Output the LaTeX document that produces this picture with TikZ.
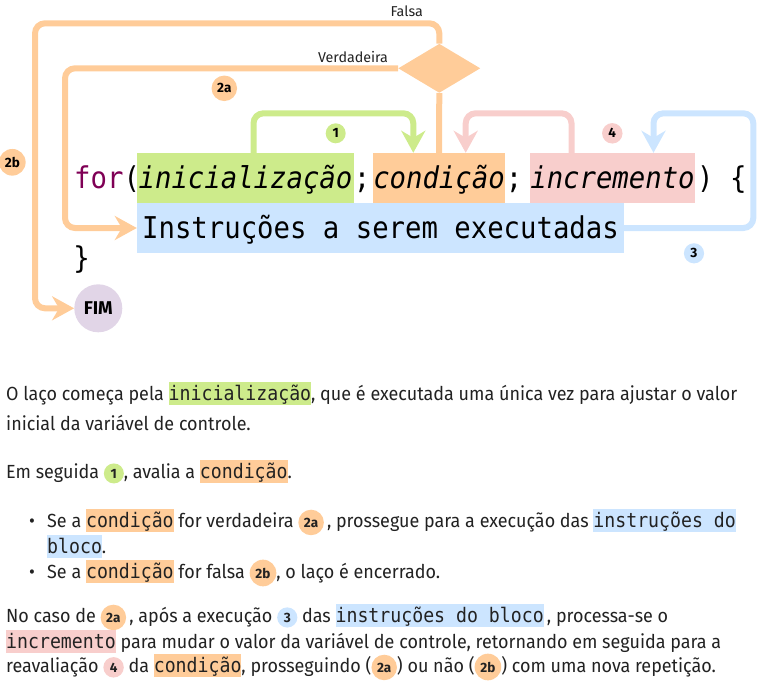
\documentclass[tikz,border=0pt]{standalone}
\usepackage{fontspec}
\setmainfont{Fira Sans}[FakeStretch=0.945]
\newfontfamily\labelfont{Fira Sans}
\newfontfamily\codefont{DejaVu Sans Mono}[FakeStretch=0.91]
\usetikzlibrary{shapes.geometric,arrows.meta}
\definecolor{cgreen}{HTML}{CDEB8B}
\definecolor{corange}{HTML}{FFCC99}
\definecolor{cpink}{HTML}{F8CECC}
\definecolor{cblue}{HTML}{CCE5FF}
\definecolor{cpurple}{HTML}{E1D5E7}
\definecolor{kwcolor}{HTML}{7F0055}
\definecolor{txtgray}{HTML}{222222}
\newcommand{\codehl}[2]{{\setlength{\fboxsep}{0pt}\colorbox{#1}{\rule[-5pt]{0pt}{23pt}\codefont\fontsize{20}{22}\selectfont #2}}}
\newcommand{\badge}[2]{\tikz[baseline=(bdg.base)]\node[badge,fill=#1] (bdg) {#2};}

\begin{document}
\begin{tikzpicture}[x=1pt,y=-1pt]
        \tikzset{
        codebox/.style={inner sep=0,minimum height=50pt,text height=25pt,text depth=5pt,font=\codefont\fontsize{30}{34}\selectfont\itshape},
        codetxt/.style={inner sep=0,anchor=base,font=\codefont\fontsize{30}{34}\selectfont},
        badge/.style={circle,inner sep=3pt,minimum size=20pt,font=\labelfont\fontsize{13.5}{15}\selectfont\bfseries},
        flow/.style={line width=6pt,rounded corners=10pt,-{Stealth[length=22pt,width=24pt,inset=7pt]}},
        branch/.style={inner sep=0,text=txtgray,font=\labelfont\fontsize{14.3}{16}\selectfont},
        para/.style={anchor=base west,inner sep=0,text=txtgray,font=\fontsize{19}{22}\selectfont}
        }
        \useasboundingbox (0,0) rectangle (766,697);

        % code line
        \node[codebox,fill=cgreen,minimum width=217pt] (ini) at (245.5,178) {inicialização};
        \node[codebox,fill=corange,minimum width=130pt] (cond) at (439,178) {condição};
        \node[codebox,fill=cpink,minimum width=163pt] (incr) at (612.5,178) {incremento};
        \node[codebox,fill=cblue,minimum width=487pt,font=\codefont\fontsize{30}{34}\selectfont] (instr) at (380.5,228) {Instruções a serem executadas};
        \node[codetxt,anchor=base west] (kw) at (74,188) {\textcolor{kwcolor}{for}(};
        \node[codetxt] (semi1) at (362,188) {;};
        \node[codetxt] (semi2) at (514,188) {;};
        \node[codetxt,anchor=base west] (open) at (697,188) {) \{};
        \node[codetxt] (close) at (81.5,268) {\}};

        \node[diamond,fill=corange,minimum width=82pt,minimum height=49pt,inner sep=0] (dec) at (439.3,68.3) {};
        \node[circle,fill=cpurple,minimum size=48pt,inner sep=0,font=\labelfont\fontsize{18.5}{20}\selectfont\bfseries] (fim) at (98.3,308.3) {FIM};

        \node[branch] (lfalsa) at (406.7,11.5) {Falsa};
        \node[branch] (lverd) at (353,57) {Verdadeira};

        \node[badge,fill=corange] (b2b) at (12.3,162.3) {2b};
        \node[badge,fill=corange] (b2a) at (224.3,88.3) {2a};
        \node[badge,fill=cgreen] (b1) at (335.7,133.3) {1};
        \node[badge,fill=cpink] (b4) at (612.3,133.3) {4};
        \node[badge,fill=cblue] (b3) at (694,253.3) {3};

        % corners of the loops
        \coordinate (ftop) at (35,23.3);
        \coordinate (vtop) at (65,68.3);
        \coordinate (gtop) at (413.3,113.3);
        \coordinate (ptop) at (465.7,113.3);
        \coordinate (btop) at (753.3,113.3);

        \draw[line width=6pt,draw=corange] (cond.north) -- (dec.south);
        \draw[flow,draw=corange] (dec.north) |- (ftop) |- (fim.west);
        \draw[flow,draw=corange] (dec.west) -- (vtop) |- (instr.west);
        \draw[flow,draw=cgreen] ([xshift=8pt]ini.north) |- (gtop) -- (gtop |- cond.north);
        \draw[flow,draw=cpink] ([xshift=-41pt]incr.north) |- (ptop) -- (ptop |- cond.north);
        \draw[flow,draw=cblue] (instr.east) -| (btop) -| ([xshift=41pt]incr.north);

        % text below
        \node[para] (t1) at (6,400) {O laço começa pela \codehl{cgreen}{inicialização}, que é executada uma única vez para ajustar o valor};
        \node[para] (t2) at (6,430) {inicial da variável de controle.};
        \node[para] (t3) at (6,478) {Em seguida \badge{cgreen}{1}, avalia a \codehl{corange}{condição}.};
        \node[para,anchor=base] (bul1) at (32,527) {•};
        \node[para] (t4) at (47,527) {Se a \codehl{corange}{condição} for verdadeira \badge{corange}{2a}\,, prossegue para a execução das \codehl{cblue}{instruções do}};
        \node[para] (t5) at (47,553) {\codehl{cblue}{bloco}.};
        \node[para,anchor=base] (bul2) at (32,578) {•};
        \node[para] (t6) at (47,578) {Se a \codehl{corange}{condição} for falsa \badge{corange}{2b}, o laço é encerrado.};
        \node[para] (t7) at (6,622) {No caso de \badge{corange}{2a}\,, após a execução \badge{cblue}{3} das \codehl{cblue}{instruções do bloco}\,, processa-se o};
        \node[para] (t8) at (6,648) {\codehl{cpink}{incremento} para mudar o valor da variável de controle, retornando em seguida para a};
        \node[para] (t9) at (6,672) {reavaliação \badge{cpink}{4} da \codehl{corange}{condição}, prosseguindo (\badge{corange}{2a}) ou não (\badge{corange}{2b}) com uma nova repetição.};
\end{tikzpicture}
\end{document}
